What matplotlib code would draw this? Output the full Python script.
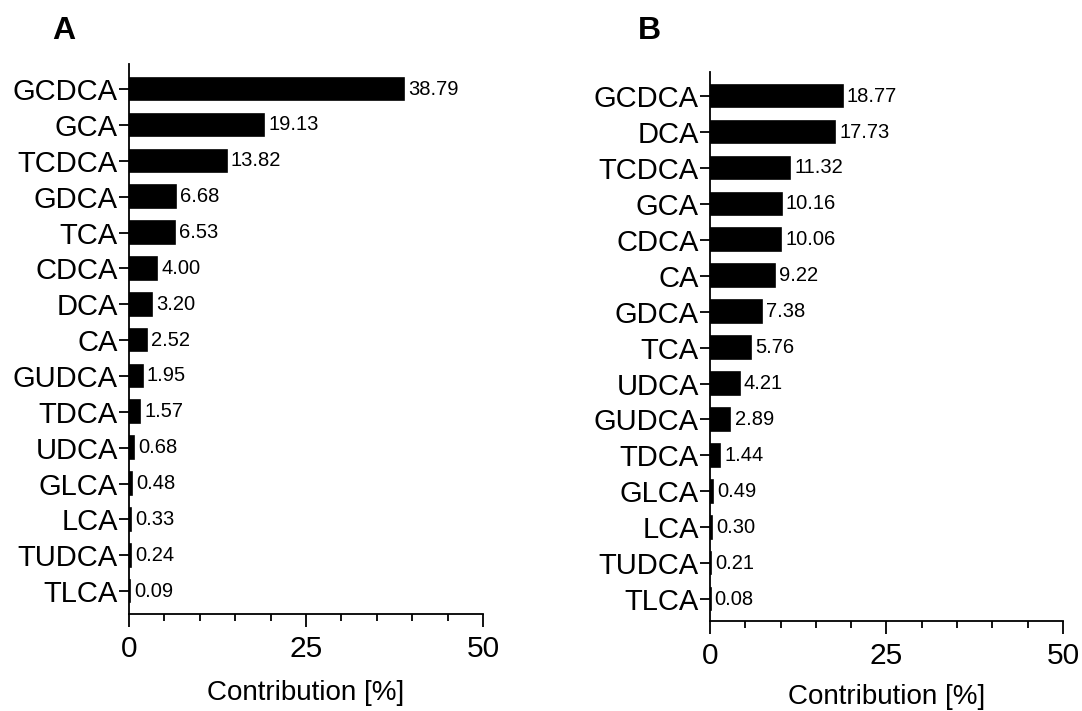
import matplotlib.pyplot as plt
from matplotlib.ticker import MultipleLocator

plt.rcParams['font.family'] = ['Liberation Sans', 'DejaVu Sans']

labels_a = ['GCDCA', 'GCA', 'TCDCA', 'GDCA', 'TCA', 'CDCA', 'DCA', 'CA',
            'GUDCA', 'TDCA', 'UDCA', 'GLCA', 'LCA', 'TUDCA', 'TLCA']
values_a = [38.79, 19.13, 13.82, 6.68, 6.53, 4.00, 3.20, 2.52,
            1.95, 1.57, 0.68, 0.48, 0.33, 0.24, 0.09]

labels_b = ['GCDCA', 'DCA', 'TCDCA', 'GCA', 'CDCA', 'CA', 'GDCA', 'TCA',
            'UDCA', 'GUDCA', 'TDCA', 'GLCA', 'LCA', 'TUDCA', 'TLCA']
values_b = [18.77, 17.73, 11.32, 10.16, 10.06, 9.22, 7.38, 5.76,
            4.21, 2.89, 1.44, 0.49, 0.30, 0.21, 0.08]

fig = plt.figure(figsize=(10.82, 7.11), dpi=100)
ax_a = fig.add_axes([0.1192, 0.1364, 0.3272, 0.7736])
ax_b = fig.add_axes([0.6562, 0.1266, 0.3262, 0.7721])


def draw(ax, labels, values, ylim, pad):
    pos = list(range(len(labels)))
    ax.barh(pos, values, height=0.63, color='black', edgecolor='black', linewidth=1.2)
    for p, v in zip(pos, values):
        ax.annotate(f'{v:.2f}', (v, p), xytext=(3, 0), textcoords='offset points',
                    va='center', ha='left', fontsize=14.5)
    ax.set_yticks(pos)
    ax.set_yticklabels(labels, fontsize=21)
    ax.set_ylim(*ylim)
    ax.set_xlim(0, 50)
    ax.xaxis.set_major_locator(MultipleLocator(25))
    ax.xaxis.set_minor_locator(MultipleLocator(5))
    ax.tick_params(axis='x', which='major', labelsize=21.5, length=9, width=1.3, pad=6)
    ax.tick_params(axis='x', which='minor', length=5, width=1.3)
    ax.tick_params(axis='y', length=7, width=1.3, pad=1)
    ax.spines['top'].set_visible(False)
    ax.spines['right'].set_visible(False)
    for s in ('left', 'bottom'):
        ax.spines[s].set_linewidth(1.3)
    ax.set_xlabel('Contribution [%]', fontsize=20, labelpad=pad)


draw(ax_a, labels_a, values_a, (14.64, -0.70), 12)
draw(ax_b, labels_b, values_b, (14.61, -0.67), 10)

fig.text(0.048, 0.945, 'A', fontsize=23, fontweight='bold')
fig.text(0.5896, 0.945, 'B', fontsize=23, fontweight='bold')

fig.savefig('out.png', dpi=100)
